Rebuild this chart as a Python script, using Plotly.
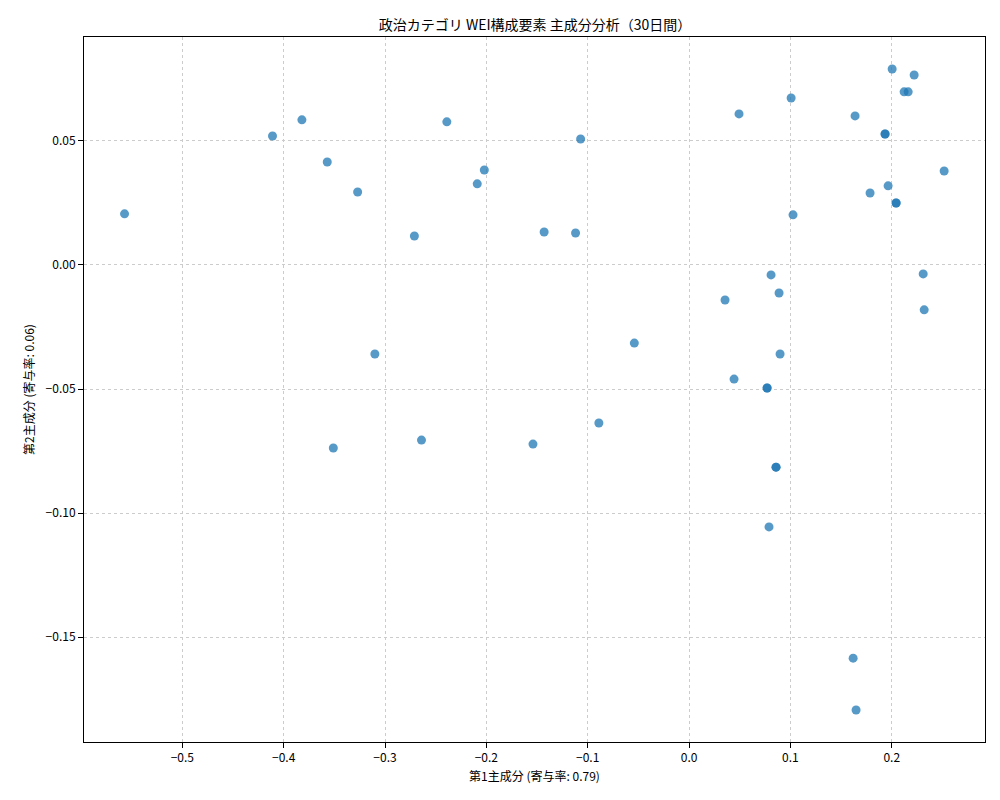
import plotly.graph_objects as go

pc1 = [-0.557, -0.411, -0.382, -0.357, -0.327, -0.271, -0.239, -0.209, -0.202, -0.143,
       -0.112, -0.107, -0.310, -0.351, -0.264, -0.154, -0.089, -0.054, 0.0355, 0.0444,
       0.0493, 0.077, 0.077, 0.0809, 0.0888, 0.0898, 0.0858, 0.0858, 0.0789, 0.1007,
       0.1026, 0.1638, 0.1786, 0.1934, 0.1934, 0.1964, 0.2004, 0.2043, 0.2043, 0.2122,
       0.2162, 0.2221, 0.231, 0.232, 0.2517, 0.1619, 0.1648]
pc2 = [0.0206, 0.052, 0.0585, 0.0415, 0.0294, 0.0117, 0.0577, 0.0327, 0.0383, 0.0133,
       0.0129, 0.0508, -0.0359, -0.0738, -0.0706, -0.0722, -0.0637, -0.0315, -0.0141, -0.046,
       0.0609, -0.0496, -0.0496, -0.004, -0.0113, -0.0359, -0.0815, -0.0815, -0.1056, 0.0673,
       0.0202, 0.0601, 0.029, 0.0528, 0.0528, 0.0319, 0.079, 0.025, 0.025, 0.0698,
       0.0698, 0.0766, -0.0036, -0.0181, 0.0379, -0.1585, -0.1794]

fig = go.Figure(go.Scatter(x=pc1, y=pc2, mode="markers",
                           marker=dict(color="#1f77b4", opacity=0.75, size=9)))

axis = dict(showline=True, linecolor="black", mirror=True, ticks="outside",
            tickcolor="black", showgrid=True, gridcolor="#cccccc", griddash="dot",
            zeroline=False, tickfont=dict(size=12), automargin=False)
fig.update_xaxes(axis, range=[-0.597, 0.292], dtick=0.1, tickformat=".1f",
                 title=dict(text="第1主成分 (寄与率: 0.79)", font=dict(size=12), standoff=8))
fig.update_yaxes(axis, range=[-0.1923, 0.0919], dtick=0.05, tickformat=".2f",
                 title=dict(text="第2主成分 (寄与率: 0.06)", font=dict(size=12), standoff=8))
fig.update_layout(
    width=1000, height=800, plot_bgcolor="white", paper_bgcolor="white",
    font=dict(family="Noto Sans CJK JP", color="black"),
    title=dict(text="政治カテゴリ WEI構成要素 主成分分析（30日間）", x=0.527, y=0.985,
               xanchor="center", font=dict(size=14)),
    margin=dict(l=76, r=23, t=29, b=66), showlegend=False,
)
fig.write_html("out.html")
